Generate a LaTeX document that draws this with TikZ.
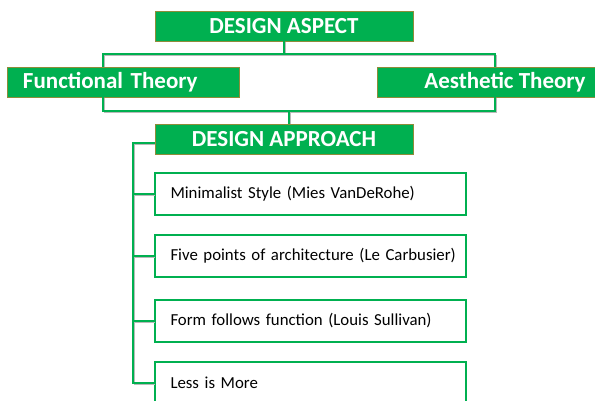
\documentclass[tikz,border=0pt]{standalone}
\usepackage{fontspec}
\setmainfont{Carlito}
\newfontfamily\itemfont[WordSpace=0.8]{Carlito}
\usepackage{tikz}
\usetikzlibrary{shapes,arrows,positioning}
\definecolor{leafgreen}{HTML}{00B050}
\definecolor{rimolive}{HTML}{8E8C3A}

\begin{document}
\begin{tikzpicture}[x=1pt, y=-1pt, auto]
    % Define styles
    \tikzstyle{head} = [rectangle, draw=rimolive, line width=0.8pt, fill=leafgreen, text=white, font=\fontsize{23}{26}\selectfont\bfseries, minimum height=30pt, inner sep=0pt]
    \tikzstyle{item} = [rectangle, draw=leafgreen, line width=1.6pt, fill=white, inner xsep=5.5pt, text width=300pt, align=left, minimum height=42pt, font=\itemfont\fontsize{16.8}{20}\selectfont, execute at begin node={\hspace*{10pt}}]
    \tikzstyle{link} = [draw=leafgreen, line width=1.6pt, preaction={draw=gray!55, transform canvas={shift={(0.8pt,-0.8pt)}}}]

    \useasboundingbox (0,0) rectangle (595,401);
    \clip (0,0) rectangle (595,401);

    % Theory level
    \node [head, minimum width=258pt] (aspect) at (284,26) {DESIGN ASPECT};
    \node [head, text width=200pt, inner xsep=16pt, align=left] (functional) at (123,82) {Functional Theory};
    \node [head, minimum width=256pt] (aesthetic) at (505,82) {Aesthetic Theory};
    \node [head, minimum width=258pt] (approach) at (284,139) {DESIGN APPROACH};

    % Approach list
    \node [item] (minimal) at (310.5,194) {Minimalist Style (Mies VanDeRohe)};
    \node [item, below of=minimal, node distance=62pt] (five) {Five points of architecture (Le Carbusier)};
    \node [item, below of=five, node distance=65pt] (form) {Form follows function (Louis Sullivan)};
    \node [item, below of=form, node distance=62pt] (less) {Less is More};

    % Bars and spine
    \coordinate (tl) at (103,54);
    \coordinate (tr) at (495,54);
    \coordinate (bl) at (103,111);
    \coordinate (br) at (495,111);
    \coordinate (spine) at (133,143);

    % Connections
    \draw [link] (aspect.south) -- (aspect.south |- tl);
    \draw [link] (functional.north -| tl) |- (tr) -- (aesthetic.north -| tr);
    \draw [link] (functional.south -| bl) |- (br) -- (aesthetic.south -| br);
    \draw [link] ([xshift=5pt]approach.north) -- ([xshift=5pt]approach.north |- bl);
    \draw [link] ([yshift=-4pt]approach.west) -- (spine) |- (less.west);
    \draw [link] (spine |- minimal.west) -- (minimal.west);
    \draw [link] (spine |- five.west) -- (five.west);
    \draw [link] (spine |- form.west) -- (form.west);
\end{tikzpicture}
\end{document}
